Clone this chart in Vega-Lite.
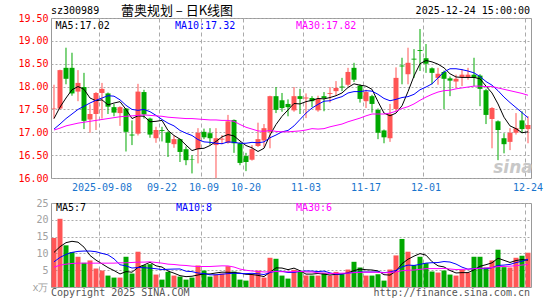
{
"$schema": "https://vega.github.io/schema/vega-lite/v6.json",
"background": "white",
"padding": {"left": 17, "top": 4, "right": 15, "bottom": 2},
"bounds": "flush",
"spacing": 25,
"config": {
  "view": {"stroke": "#999999", "strokeWidth": 1},
  "axis": {"labelFont": "DejaVu Sans Mono", "labelFontSize": 10, "labelOverlap": false, "labelBound": false},
  "text": {"font": "DejaVu Sans Mono", "fontSize": 10}
},
"datasets": {"k": [
{"date":"2025-08-27","open":17.52,"high":18.04,"low":17.30,"close":17.53,"vol":14.6,"ma5":17.30,"ma10":17.07,"ma30":17.05,"vma5":10.3,"vma10":7.5,"vma30":5.9},
{"date":"2025-08-28","open":17.52,"high":18.37,"low":17.50,"close":18.36,"vol":20.3,"ma5":17.55,"ma10":17.18,"ma30":17.09,"vma5":12.0,"vma10":8.8,"vma30":6.5},
{"date":"2025-08-29","open":18.41,"high":18.85,"low":18.05,"close":18.17,"vol":12.4,"ma5":17.75,"ma10":17.30,"ma30":17.14,"vma5":13.2,"vma10":9.7,"vma30":6.8},
{"date":"2025-09-01","open":18.41,"high":18.74,"low":17.80,"close":17.85,"vol":10.4,"ma5":17.93,"ma10":17.40,"ma30":17.17,"vma5":13.6,"vma10":10.3,"vma30":7.0},
{"date":"2025-09-02","open":17.89,"high":18.36,"low":17.68,"close":18.08,"vol":9.0,"ma5":18.00,"ma10":17.50,"ma30":17.20,"vma5":13.34,"vma10":10.6,"vma30":7.1},
{"date":"2025-09-03","open":17.99,"high":18.30,"low":17.07,"close":17.25,"vol":7.2,"ma5":17.94,"ma10":17.57,"ma30":17.22,"vma5":11.86,"vma10":10.7,"vma30":7.1},
{"date":"2025-09-04","open":17.28,"high":17.61,"low":16.99,"close":17.40,"vol":7.9,"ma5":17.75,"ma10":17.64,"ma30":17.24,"vma5":9.38,"vma10":10.7,"vma30":7.1},
{"date":"2025-09-05","open":17.40,"high":17.88,"low":17.05,"close":17.86,"vol":5.5,"ma5":17.69,"ma10":17.70,"ma30":17.26,"vma5":8.0,"vma10":10.5,"vma30":7.1},
{"date":"2025-09-08","open":17.86,"high":18.08,"low":17.30,"close":17.95,"vol":4.9,"ma5":17.71,"ma10":17.75,"ma30":17.28,"vma5":6.9,"vma10":10.0,"vma30":7.1},
{"date":"2025-09-09","open":17.85,"high":17.87,"low":17.40,"close":17.56,"vol":3.4,"ma5":17.60,"ma10":17.80,"ma30":17.30,"vma5":5.78,"vma10":9.56,"vma30":7.1},
{"date":"2025-09-10","open":17.55,"high":17.62,"low":17.35,"close":17.43,"vol":2.8,"ma5":17.64,"ma10":17.79,"ma30":17.32,"vma5":4.9,"vma10":8.38,"vma30":7.1},
{"date":"2025-09-11","open":17.42,"high":17.57,"low":17.14,"close":17.55,"vol":2.8,"ma5":17.67,"ma10":17.71,"ma30":17.34,"vma5":3.88,"vma10":6.63,"vma30":7.2},
{"date":"2025-09-12","open":17.52,"high":17.53,"low":16.58,"close":17.01,"vol":9.0,"ma5":17.50,"ma10":17.59,"ma30":17.35,"vma5":4.58,"vma10":6.29,"vma30":7.2},
{"date":"2025-09-15","open":16.95,"high":17.26,"low":16.72,"close":16.93,"vol":4.0,"ma5":17.30,"ma10":17.50,"ma30":17.36,"vma5":4.4,"vma10":5.65,"vma30":7.3},
{"date":"2025-09-16","open":16.97,"high":18.06,"low":16.93,"close":17.89,"vol":10.5,"ma5":17.36,"ma10":17.48,"ma30":17.37,"vma5":5.82,"vma10":5.8,"vma30":7.4},
{"date":"2025-09-17","open":17.88,"high":17.93,"low":17.30,"close":17.39,"vol":6.5,"ma5":17.35,"ma10":17.50,"ma30":17.38,"vma5":6.56,"vma10":5.73,"vma30":7.4},
{"date":"2025-09-18","open":17.30,"high":17.32,"low":16.88,"close":16.95,"vol":6.8,"ma5":17.23,"ma10":17.45,"ma30":17.37,"vma5":7.36,"vma10":5.62,"vma30":7.5},
{"date":"2025-09-19","open":16.87,"high":17.12,"low":16.77,"close":17.05,"vol":3.7,"ma5":17.24,"ma10":17.37,"ma30":17.36,"vma5":6.3,"vma10":5.44,"vma30":7.3},
{"date":"2025-09-22","open":17.05,"high":17.12,"low":16.80,"close":17.03,"vol":2.2,"ma5":17.26,"ma10":17.28,"ma30":17.35,"vma5":5.94,"vma10":5.17,"vma30":7.1},
{"date":"2025-09-23","open":17.00,"high":17.02,"low":16.46,"close":16.77,"vol":4.5,"ma5":17.04,"ma10":17.20,"ma30":17.33,"vma5":4.74,"vma10":5.28,"vma30":6.8},
{"date":"2025-09-24","open":16.74,"high":16.93,"low":16.66,"close":16.85,"vol":3.4,"ma5":16.93,"ma10":17.14,"ma30":17.32,"vma5":4.12,"vma10":5.34,"vma30":6.7},
{"date":"2025-09-25","open":16.85,"high":16.86,"low":16.35,"close":16.57,"vol":3.1,"ma5":16.85,"ma10":17.04,"ma30":17.31,"vma5":3.38,"vma10":5.37,"vma30":6.5},
{"date":"2025-09-26","open":16.63,"high":16.69,"low":16.28,"close":16.39,"vol":2.2,"ma5":16.72,"ma10":16.98,"ma30":17.30,"vma5":3.08,"vma10":4.69,"vma30":6.4},
{"date":"2025-09-29","open":16.41,"high":16.50,"low":16.10,"close":16.40,"vol":2.8,"ma5":16.60,"ma10":16.93,"ma30":17.30,"vma5":3.2,"vma10":4.57,"vma30":6.2},
{"date":"2025-09-30","open":16.63,"high":17.09,"low":16.32,"close":16.99,"vol":6.4,"ma5":16.64,"ma10":16.84,"ma30":17.29,"vma5":3.58,"vma10":4.16,"vma30":6.1},
{"date":"2025-10-09","open":17.01,"high":17.08,"low":16.85,"close":16.89,"vol":4.9,"ma5":16.65,"ma10":16.79,"ma30":17.28,"vma5":3.88,"vma10":4.0,"vma30":6.1},
{"date":"2025-10-10","open":16.98,"high":17.09,"low":16.73,"close":16.87,"vol":3.1,"ma5":16.71,"ma10":16.78,"ma30":17.27,"vma5":3.88,"vma10":3.63,"vma30":6.1},
{"date":"2025-10-13","open":16.72,"high":17.09,"low":16.00,"close":16.87,"vol":3.7,"ma5":16.80,"ma10":16.76,"ma30":17.27,"vma5":4.18,"vma10":3.63,"vma30":6.2},
{"date":"2025-10-14","open":16.84,"high":16.94,"low":16.74,"close":16.86,"vol":4.0,"ma5":16.90,"ma10":16.75,"ma30":17.26,"vma5":4.42,"vma10":3.81,"vma30":6.3},
{"date":"2025-10-15","open":16.77,"high":17.38,"low":16.75,"close":17.24,"vol":6.2,"ma5":16.95,"ma10":16.79,"ma30":17.26,"vma5":4.38,"vma10":3.98,"vma30":6.27},
{"date":"2025-10-16","open":17.27,"high":17.28,"low":16.55,"close":16.76,"vol":4.6,"ma5":16.92,"ma10":16.78,"ma30":17.24,"vma5":4.32,"vma10":4.1,"vma30":5.94},
{"date":"2025-10-17","open":16.76,"high":16.78,"low":16.28,"close":16.33,"vol":2.2,"ma5":16.81,"ma10":16.76,"ma30":17.17,"vma5":4.14,"vma10":4.01,"vma30":5.34},
{"date":"2025-10-20","open":16.48,"high":16.55,"low":16.15,"close":16.35,"vol":1.9,"ma5":16.71,"ma10":16.76,"ma30":17.11,"vma5":3.78,"vma10":3.98,"vma30":4.99},
{"date":"2025-10-21","open":16.40,"high":16.72,"low":16.38,"close":16.63,"vol":3.7,"ma5":16.66,"ma10":16.78,"ma30":17.07,"vma5":3.72,"vma10":4.07,"vma30":4.76},
{"date":"2025-10-22","open":16.70,"high":17.21,"low":16.68,"close":16.85,"vol":4.9,"ma5":16.58,"ma10":16.77,"ma30":17.03,"vma5":3.46,"vma10":3.92,"vma30":4.63},
{"date":"2025-10-23","open":16.82,"high":17.18,"low":16.67,"close":17.09,"vol":2.8,"ma5":16.65,"ma10":16.79,"ma30":17.02,"vma5":3.1,"vma10":3.71,"vma30":4.48},
{"date":"2025-10-24","open":17.01,"high":17.80,"low":16.65,"close":17.79,"vol":8.7,"ma5":16.94,"ma10":16.88,"ma30":17.04,"vma5":4.4,"vma10":4.27,"vma30":4.51},
{"date":"2025-10-27","open":17.79,"high":17.99,"low":17.42,"close":17.49,"vol":8.4,"ma5":17.17,"ma10":16.94,"ma30":17.02,"vma5":5.7,"vma10":4.74,"vma30":4.6},
{"date":"2025-10-28","open":17.70,"high":17.86,"low":17.45,"close":17.53,"vol":3.4,"ma5":17.35,"ma10":17.01,"ma30":17.01,"vma5":5.64,"vma10":4.68,"vma30":4.55},
{"date":"2025-10-29","open":17.62,"high":17.72,"low":17.35,"close":17.55,"vol":2.5,"ma5":17.49,"ma10":17.04,"ma30":17.01,"vma5":5.16,"vma10":4.31,"vma30":4.52},
{"date":"2025-10-30","open":17.48,"high":17.99,"low":17.45,"close":17.79,"vol":5.1,"ma5":17.63,"ma10":17.14,"ma30":17.02,"vma5":5.62,"vma10":4.36,"vma30":4.6},
{"date":"2025-10-31","open":17.79,"high":17.95,"low":17.40,"close":17.73,"vol":4.8,"ma5":17.62,"ma10":17.28,"ma30":17.03,"vma5":4.84,"vma10":4.62,"vma30":4.67},
{"date":"2025-11-03","open":17.74,"high":17.85,"low":17.31,"close":17.76,"vol":3.4,"ma5":17.67,"ma10":17.42,"ma30":17.05,"vma5":3.84,"vma10":4.77,"vma30":4.48},
{"date":"2025-11-04","open":17.75,"high":17.79,"low":17.55,"close":17.68,"vol":3.4,"ma5":17.70,"ma10":17.53,"ma30":17.08,"vma5":3.84,"vma10":4.74,"vma30":4.46},
{"date":"2025-11-05","open":17.48,"high":17.80,"low":17.45,"close":17.73,"vol":3.4,"ma5":17.74,"ma10":17.61,"ma30":17.07,"vma5":4.02,"vma10":4.59,"vma30":4.22},
{"date":"2025-11-06","open":17.79,"high":17.88,"low":17.46,"close":17.75,"vol":4.2,"ma5":17.73,"ma10":17.68,"ma30":17.08,"vma5":3.84,"vma10":4.73,"vma30":4.15},
{"date":"2025-11-07","open":17.84,"high":17.99,"low":17.65,"close":17.86,"vol":3.4,"ma5":17.76,"ma10":17.69,"ma30":17.12,"vma5":3.56,"vma10":4.2,"vma30":4.03},
{"date":"2025-11-10","open":17.90,"high":18.12,"low":17.80,"close":17.97,"vol":4.5,"ma5":17.80,"ma10":17.74,"ma30":17.15,"vma5":3.78,"vma10":3.81,"vma30":4.06},
{"date":"2025-11-11","open":18.00,"high":18.19,"low":17.90,"close":17.98,"vol":3.8,"ma5":17.86,"ma10":17.78,"ma30":17.18,"vma5":3.86,"vma10":3.85,"vma30":4.11},
{"date":"2025-11-12","open":18.04,"high":18.41,"low":18.00,"close":18.32,"vol":5.2,"ma5":17.98,"ma10":17.86,"ma30":17.23,"vma5":4.22,"vma10":4.12,"vma30":4.14},
{"date":"2025-11-13","open":18.41,"high":18.52,"low":18.10,"close":18.15,"vol":7.5,"ma5":18.06,"ma10":17.89,"ma30":17.27,"vma5":4.88,"vma10":4.36,"vma30":4.27},
{"date":"2025-11-14","open":18.02,"high":18.05,"low":17.65,"close":17.73,"vol":5.8,"ma5":18.03,"ma10":17.89,"ma30":17.31,"vma5":5.36,"vma10":4.46,"vma30":4.36},
{"date":"2025-11-17","open":17.68,"high":17.93,"low":17.53,"close":17.88,"vol":3.4,"ma5":18.01,"ma10":17.91,"ma30":17.36,"vma5":5.14,"vma10":4.46,"vma30":4.4},
{"date":"2025-11-18","open":17.79,"high":17.82,"low":17.43,"close":17.62,"vol":3.4,"ma5":17.94,"ma10":17.90,"ma30":17.40,"vma5":5.06,"vma10":4.46,"vma30":4.42},
{"date":"2025-11-19","open":17.49,"high":17.52,"low":16.85,"close":16.99,"vol":3.8,"ma5":17.67,"ma10":17.83,"ma30":17.40,"vma5":4.78,"vma10":4.5,"vma30":4.34},
{"date":"2025-11-20","open":17.04,"high":17.06,"low":16.76,"close":16.89,"vol":1.9,"ma5":17.42,"ma10":17.74,"ma30":17.40,"vma5":3.66,"vma10":4.27,"vma30":4.24},
{"date":"2025-11-21","open":16.87,"high":17.62,"low":16.79,"close":17.40,"vol":5.2,"ma5":17.36,"ma10":17.69,"ma30":17.42,"vma5":3.54,"vma10":4.45,"vma30":4.31},
{"date":"2025-11-24","open":17.51,"high":18.42,"low":17.45,"close":18.19,"vol":9.4,"ma5":17.42,"ma10":17.72,"ma30":17.46,"vma5":4.74,"vma10":4.94,"vma30":4.5},
{"date":"2025-11-25","open":18.46,"high":18.63,"low":18.05,"close":18.44,"vol":14.3,"ma5":17.58,"ma10":17.76,"ma30":17.52,"vma5":6.92,"vma10":5.99,"vma30":4.84},
{"date":"2025-11-26","open":18.27,"high":18.85,"low":18.05,"close":18.52,"vol":10.5,"ma5":17.89,"ma10":17.78,"ma30":17.56,"vma5":8.26,"vma10":6.52,"vma30":4.98},
{"date":"2025-11-27","open":18.61,"high":18.82,"low":18.19,"close":18.59,"vol":6.5,"ma5":18.23,"ma10":17.83,"ma30":17.62,"vma5":9.18,"vma10":6.42,"vma30":5.05},
{"date":"2025-11-28","open":18.80,"high":19.26,"low":18.34,"close":18.78,"vol":9.0,"ma5":18.50,"ma10":17.93,"ma30":17.70,"vma5":9.94,"vma10":6.74,"vma30":5.27},
{"date":"2025-12-01","open":18.62,"high":18.93,"low":18.30,"close":18.50,"vol":7.1,"ma5":18.57,"ma10":17.99,"ma30":17.77,"vma5":9.48,"vma10":7.11,"vma30":5.45},
{"date":"2025-12-02","open":18.40,"high":18.42,"low":18.05,"close":18.30,"vol":4.6,"ma5":18.54,"ma10":18.06,"ma30":17.83,"vma5":7.54,"vma10":7.23,"vma30":5.48},
{"date":"2025-12-03","open":18.19,"high":18.41,"low":18.04,"close":18.28,"vol":4.3,"ma5":18.49,"ma10":18.19,"ma30":17.88,"vma5":6.3,"vma10":7.28,"vma30":5.46},
{"date":"2025-12-04","open":18.32,"high":18.35,"low":17.51,"close":18.17,"vol":4.9,"ma5":18.41,"ma10":18.32,"ma30":17.91,"vma5":5.98,"vma10":7.58,"vma30":5.53},
{"date":"2025-12-05","open":18.18,"high":18.22,"low":17.79,"close":18.13,"vol":3.7,"ma5":18.28,"ma10":18.39,"ma30":17.92,"vma5":4.92,"vma10":7.43,"vma30":5.36},
{"date":"2025-12-08","open":18.11,"high":18.26,"low":17.97,"close":18.17,"vol":3.4,"ma5":18.21,"ma10":18.39,"ma30":17.95,"vma5":4.18,"vma10":6.83,"vma30":5.19},
{"date":"2025-12-09","open":18.21,"high":18.38,"low":18.01,"close":18.26,"vol":5.1,"ma5":18.20,"ma10":18.37,"ma30":17.97,"vma5":4.28,"vma10":5.91,"vma30":5.25},
{"date":"2025-12-10","open":18.21,"high":18.41,"low":18.15,"close":18.26,"vol":4.3,"ma5":18.20,"ma10":18.34,"ma30":17.99,"vma5":4.28,"vma10":5.29,"vma30":5.31},
{"date":"2025-12-11","open":18.26,"high":18.63,"low":18.01,"close":18.19,"vol":9.0,"ma5":18.20,"ma10":18.30,"ma30":18.01,"vma5":5.1,"vma10":5.54,"vma30":5.44},
{"date":"2025-12-12","open":18.24,"high":18.27,"low":17.57,"close":17.95,"vol":9.0,"ma5":18.17,"ma10":18.22,"ma30":18.01,"vma5":6.16,"vma10":5.54,"vma30":5.58},
{"date":"2025-12-15","open":17.92,"high":17.95,"low":17.18,"close":17.38,"vol":5.8,"ma5":18.01,"ma10":18.11,"ma30":18.00,"vma5":6.64,"vma10":5.41,"vma30":5.66},
{"date":"2025-12-16","open":17.29,"high":17.55,"low":16.65,"close":17.53,"vol":7.9,"ma5":17.86,"ma10":18.03,"ma30":18.00,"vma5":7.2,"vma10":5.74,"vma30":5.81},
{"date":"2025-12-17","open":17.24,"high":17.26,"low":16.39,"close":17.05,"vol":11.1,"ma5":17.62,"ma10":17.91,"ma30":17.97,"vma5":8.56,"vma10":6.42,"vma30":6.07},
{"date":"2025-12-18","open":16.87,"high":16.98,"low":16.54,"close":16.74,"vol":5.9,"ma5":17.33,"ma10":17.77,"ma30":17.94,"vma5":7.94,"vma10":6.52,"vma30":6.12},
{"date":"2025-12-19","open":16.79,"high":17.09,"low":16.61,"close":16.99,"vol":5.8,"ma5":17.14,"ma10":17.65,"ma30":17.91,"vma5":7.3,"vma10":6.73,"vma30":6.2},
{"date":"2025-12-22","open":16.99,"high":17.42,"low":16.95,"close":17.09,"vol":8.7,"ma5":17.08,"ma10":17.54,"ma30":17.88,"vma5":7.88,"vma10":7.26,"vma30":6.34},
{"date":"2025-12-23","open":17.26,"high":17.46,"low":16.98,"close":17.07,"vol":9.3,"ma5":16.99,"ma10":17.43,"ma30":17.85,"vma5":8.16,"vma10":7.68,"vma30":6.53},
{"date":"2025-12-24","open":17.07,"high":17.35,"low":16.76,"close":17.16,"vol":10.2,"ma5":17.01,"ma10":17.32,"ma30":17.81,"vma5":7.98,"vma10":8.27,"vma30":6.69}
]},
"vconcat": [
{
  "width": 480, "height": 160,
  "data": {"name": "k"},
  "encoding": {"x": {"field": "date", "type": "ordinal", "title": null,
    "scale": {"type": "band", "paddingInner": 0.1667, "paddingOuter": 0.0833},
    "axis": {"values": ["2025-09-08","2025-09-22","2025-10-09","2025-10-20","2025-11-03","2025-11-17","2025-12-01","2025-12-24"],
      "labelExpr": "datum.value == '2025-09-08' ? datum.value : slice(datum.value, 5)",
      "labelAngle": 0, "labelColor": "#1874cd", "labelPadding": 4, "labelOverlap": false, "ticks": false, "tickSize": 0, "domain": false,
      "grid": true, "gridDash": [4, 3], "gridColor": "#aaaaaa", "bandPosition": 0, "title": null}}},
  "layer": [
    {"mark": {"type": "rule", "strokeWidth": 1},
     "encoding": {
       "y": {"field": "low", "type": "quantitative", "title": null, "scale": {"domain": [16, 19.5]},
         "axis": {"values": [16, 16.5, 17, 17.5, 18, 18.5, 19, 19.5], "format": ".2f", "labelColor": "#ff0000", "labelOverlap": false, "labelBound": false, "labelFlush": false, "labelPadding": 3, "ticks": false, "tickSize": 0, "domain": false, "grid": true, "gridDash": [2, 2], "gridColor": "#aaaaaa", "title": null}},
       "y2": {"field": "high"},
       "color": {"condition": {"test": "datum.close >= datum.open", "value": "#ff5555"}, "value": "#00a800"}}},
    {"mark": {"type": "bar"},
     "encoding": {
       "y": {"field": "open", "type": "quantitative", "title": null, "scale": {"domain": [16, 19.5]},
         "axis": {"values": [16, 16.5, 17, 17.5, 18, 18.5, 19, 19.5], "format": ".2f", "labelColor": "#ff0000", "labelOverlap": false, "labelBound": false, "labelFlush": false, "labelPadding": 3, "ticks": false, "tickSize": 0, "domain": false, "grid": true, "gridDash": [2, 2], "gridColor": "#aaaaaa", "title": null}},
       "y2": {"field": "close"},
       "color": {"condition": {"test": "datum.close >= datum.open", "value": "#ff5555"}, "value": "#00a800"}}},
    {"mark": {"type": "line", "color": "#000000", "strokeWidth": 1},
     "encoding": {"y": {"field": "ma5", "type": "quantitative", "title": null, "scale": {"domain": [16, 19.5]},
       "axis": {"values": [16, 16.5, 17, 17.5, 18, 18.5, 19, 19.5], "format": ".2f", "labelColor": "#ff0000", "labelOverlap": false, "labelBound": false, "labelFlush": false, "labelPadding": 3, "ticks": false, "tickSize": 0, "domain": false, "grid": true, "gridDash": [2, 2], "gridColor": "#aaaaaa", "title": null}}}},
    {"mark": {"type": "line", "color": "#0000ff", "strokeWidth": 1},
     "encoding": {"y": {"field": "ma10", "type": "quantitative", "title": null, "scale": {"domain": [16, 19.5]},
       "axis": {"values": [16, 16.5, 17, 17.5, 18, 18.5, 19, 19.5], "format": ".2f", "labelColor": "#ff0000", "labelOverlap": false, "labelBound": false, "labelFlush": false, "labelPadding": 3, "ticks": false, "tickSize": 0, "domain": false, "grid": true, "gridDash": [2, 2], "gridColor": "#aaaaaa", "title": null}}}},
    {"mark": {"type": "line", "color": "#ff00ff", "strokeWidth": 1},
     "encoding": {"y": {"field": "ma30", "type": "quantitative", "title": null, "scale": {"domain": [16, 19.5]},
       "axis": {"values": [16, 16.5, 17, 17.5, 18, 18.5, 19, 19.5], "format": ".2f", "labelColor": "#ff0000", "labelOverlap": false, "labelBound": false, "labelFlush": false, "labelPadding": 3, "ticks": false, "tickSize": 0, "domain": false, "grid": true, "gridDash": [2, 2], "gridColor": "#aaaaaa", "title": null}}}},
    {"data": {"values": [{"label": "sz300989"}]},
     "mark": {"type": "text", "align": "left", "baseline": "middle", "dx": -3, "color": "#000000"},
     "encoding": {"x": {"datum": "2025-08-27", "type": "ordinal"}, "text": {"field": "label"},
       "y": {"datum": 19.644, "type": "quantitative", "scale": {"domain": [16, 19.5]},
         "axis": {"values": [16, 16.5, 17, 17.5, 18, 18.5, 19, 19.5], "format": ".2f", "labelColor": "#ff0000", "labelOverlap": false, "labelBound": false, "labelFlush": false, "labelPadding": 3, "ticks": false, "tickSize": 0, "domain": false, "grid": true, "gridDash": [2, 2], "gridColor": "#aaaaaa", "title": null}}}},
    {"data": {"values": [{"label": "蕾奥规划 – 日K线图"}]},
     "mark": {"type": "text", "align": "center", "baseline": "middle", "dx": 3, "color": "#000000", "font": "Noto Sans CJK SC", "fontSize": 13},
     "encoding": {"x": {"datum": "2025-09-24", "type": "ordinal"}, "text": {"field": "label"},
       "y": {"datum": 19.644, "type": "quantitative", "scale": {"domain": [16, 19.5]},
         "axis": {"values": [16, 16.5, 17, 17.5, 18, 18.5, 19, 19.5], "format": ".2f", "labelColor": "#ff0000", "labelOverlap": false, "labelBound": false, "labelFlush": false, "labelPadding": 3, "ticks": false, "tickSize": 0, "domain": false, "grid": true, "gridDash": [2, 2], "gridColor": "#aaaaaa", "title": null}}}},
    {"data": {"values": [{"label": "2025-12-24 15:00:00"}]},
     "mark": {"type": "text", "align": "right", "baseline": "middle", "dx": 2, "color": "#000000"},
     "encoding": {"x": {"datum": "2025-12-24", "type": "ordinal"}, "text": {"field": "label"},
       "y": {"datum": 19.644, "type": "quantitative", "scale": {"domain": [16, 19.5]},
         "axis": {"values": [16, 16.5, 17, 17.5, 18, 18.5, 19, 19.5], "format": ".2f", "labelColor": "#ff0000", "labelOverlap": false, "labelBound": false, "labelFlush": false, "labelPadding": 3, "ticks": false, "tickSize": 0, "domain": false, "grid": true, "gridDash": [2, 2], "gridColor": "#aaaaaa", "title": null}}}},
    {"data": {"values": [{"label": "MA5:17.02"}]},
     "mark": {"type": "text", "align": "left", "baseline": "middle", "dx": 1.5, "color": "#000000"},
     "encoding": {"x": {"datum": "2025-08-27", "type": "ordinal"}, "text": {"field": "label"},
       "y": {"datum": 19.325, "type": "quantitative", "scale": {"domain": [16, 19.5]},
         "axis": {"values": [16, 16.5, 17, 17.5, 18, 18.5, 19, 19.5], "format": ".2f", "labelColor": "#ff0000", "labelOverlap": false, "labelBound": false, "labelFlush": false, "labelPadding": 3, "ticks": false, "tickSize": 0, "domain": false, "grid": true, "gridDash": [2, 2], "gridColor": "#aaaaaa", "title": null}}}},
    {"data": {"values": [{"label": "MA10:17.32"}]},
     "mark": {"type": "text", "align": "left", "baseline": "middle", "dx": 1, "color": "#0000ff"},
     "encoding": {"x": {"datum": "2025-09-24", "type": "ordinal"}, "text": {"field": "label"},
       "y": {"datum": 19.325, "type": "quantitative", "scale": {"domain": [16, 19.5]},
         "axis": {"values": [16, 16.5, 17, 17.5, 18, 18.5, 19, 19.5], "format": ".2f", "labelColor": "#ff0000", "labelOverlap": false, "labelBound": false, "labelFlush": false, "labelPadding": 3, "ticks": false, "tickSize": 0, "domain": false, "grid": true, "gridDash": [2, 2], "gridColor": "#aaaaaa", "title": null}}}},
    {"data": {"values": [{"label": "MA30:17.82"}]},
     "mark": {"type": "text", "align": "left", "baseline": "middle", "dx": 2, "color": "#ff00ff"},
     "encoding": {"x": {"datum": "2025-10-30", "type": "ordinal"}, "text": {"field": "label"},
       "y": {"datum": 19.325, "type": "quantitative", "scale": {"domain": [16, 19.5]},
         "axis": {"values": [16, 16.5, 17, 17.5, 18, 18.5, 19, 19.5], "format": ".2f", "labelColor": "#ff0000", "labelOverlap": false, "labelBound": false, "labelFlush": false, "labelPadding": 3, "ticks": false, "tickSize": 0, "domain": false, "grid": true, "gridDash": [2, 2], "gridColor": "#aaaaaa", "title": null}}}},
    {"data": {"values": [{"label": "sina"}]},
     "mark": {"type": "text", "align": "center", "baseline": "middle", "dx": -3, "color": "#c8c8c8", "font": "DejaVu Sans", "fontSize": 17, "fontStyle": "italic", "fontWeight": "bold"},
     "encoding": {"x": {"datum": "2025-12-22", "type": "ordinal"}, "text": {"field": "label"},
       "y": {"datum": 16.22, "type": "quantitative", "scale": {"domain": [16, 19.5]},
         "axis": {"values": [16, 16.5, 17, 17.5, 18, 18.5, 19, 19.5], "format": ".2f", "labelColor": "#ff0000", "labelOverlap": false, "labelBound": false, "labelFlush": false, "labelPadding": 3, "ticks": false, "tickSize": 0, "domain": false, "grid": true, "gridDash": [2, 2], "gridColor": "#aaaaaa", "title": null}}}}
  ]
},
{
  "width": 480, "height": 84,
  "data": {"name": "k"},
  "encoding": {"x": {"field": "date", "type": "ordinal", "title": null,
    "scale": {"type": "band", "paddingInner": 0.1667, "paddingOuter": 0.0833},
    "axis": {"values": ["2025-09-08","2025-09-22","2025-10-09","2025-10-20","2025-11-03","2025-11-17","2025-12-01","2025-12-24"],
      "labels": false, "ticks": false, "tickSize": 0, "domain": false,
      "grid": true, "gridDash": [4, 3], "gridColor": "#aaaaaa", "bandPosition": 0, "title": null}}},
  "layer": [
    {"mark": {"type": "bar"},
     "encoding": {
       "y": {"field": "vol", "type": "quantitative", "title": null, "scale": {"domain": [0, 25]},
         "axis": {"values": [0, 5, 10, 15, 20, 25], "labelExpr": "datum.value == 0 ? 'x万' : datum.label", "labelColor": "#a0a0a0", "labelOverlap": false, "labelBound": false, "labelFlush": false, "labelPadding": 3, "ticks": false, "tickSize": 0, "domain": false, "grid": true, "gridDash": [2, 2], "gridColor": "#aaaaaa", "title": null}},
       "color": {"condition": {"test": "datum.close >= datum.open", "value": "#ff5555"}, "value": "#00a800"}}},
    {"mark": {"type": "line", "color": "#000000", "strokeWidth": 1},
     "encoding": {"y": {"field": "vma5", "type": "quantitative", "title": null, "scale": {"domain": [0, 25]},
       "axis": {"values": [0, 5, 10, 15, 20, 25], "labelExpr": "datum.value == 0 ? 'x万' : datum.label", "labelColor": "#a0a0a0", "labelOverlap": false, "labelBound": false, "labelFlush": false, "labelPadding": 3, "ticks": false, "tickSize": 0, "domain": false, "grid": true, "gridDash": [2, 2], "gridColor": "#aaaaaa", "title": null}}}},
    {"mark": {"type": "line", "color": "#0000ff", "strokeWidth": 1},
     "encoding": {"y": {"field": "vma10", "type": "quantitative", "title": null, "scale": {"domain": [0, 25]},
       "axis": {"values": [0, 5, 10, 15, 20, 25], "labelExpr": "datum.value == 0 ? 'x万' : datum.label", "labelColor": "#a0a0a0", "labelOverlap": false, "labelBound": false, "labelFlush": false, "labelPadding": 3, "ticks": false, "tickSize": 0, "domain": false, "grid": true, "gridDash": [2, 2], "gridColor": "#aaaaaa", "title": null}}}},
    {"mark": {"type": "line", "color": "#ff00ff", "strokeWidth": 1},
     "encoding": {"y": {"field": "vma30", "type": "quantitative", "title": null, "scale": {"domain": [0, 25]},
       "axis": {"values": [0, 5, 10, 15, 20, 25], "labelExpr": "datum.value == 0 ? 'x万' : datum.label", "labelColor": "#a0a0a0", "labelOverlap": false, "labelBound": false, "labelFlush": false, "labelPadding": 3, "ticks": false, "tickSize": 0, "domain": false, "grid": true, "gridDash": [2, 2], "gridColor": "#aaaaaa", "title": null}}}},
    {"data": {"values": [{"label": "MA5:7"}]},
     "mark": {"type": "text", "align": "left", "baseline": "middle", "dx": 2, "color": "#000000"},
     "encoding": {"x": {"datum": "2025-08-27", "type": "ordinal"}, "text": {"field": "label"},
       "y": {"datum": 23.6, "type": "quantitative", "scale": {"domain": [0, 25]},
         "axis": {"values": [0, 5, 10, 15, 20, 25], "labelExpr": "datum.value == 0 ? 'x万' : datum.label", "labelColor": "#a0a0a0", "labelOverlap": false, "labelBound": false, "labelFlush": false, "labelPadding": 3, "ticks": false, "tickSize": 0, "domain": false, "grid": true, "gridDash": [2, 2], "gridColor": "#aaaaaa", "title": null}}}},
    {"data": {"values": [{"label": "MA10:8"}]},
     "mark": {"type": "text", "align": "left", "baseline": "middle", "dx": 2, "color": "#0000ff"},
     "encoding": {"x": {"datum": "2025-09-24", "type": "ordinal"}, "text": {"field": "label"},
       "y": {"datum": 23.6, "type": "quantitative", "scale": {"domain": [0, 25]},
         "axis": {"values": [0, 5, 10, 15, 20, 25], "labelExpr": "datum.value == 0 ? 'x万' : datum.label", "labelColor": "#a0a0a0", "labelOverlap": false, "labelBound": false, "labelFlush": false, "labelPadding": 3, "ticks": false, "tickSize": 0, "domain": false, "grid": true, "gridDash": [2, 2], "gridColor": "#aaaaaa", "title": null}}}},
    {"data": {"values": [{"label": "MA30:6"}]},
     "mark": {"type": "text", "align": "left", "baseline": "middle", "dx": 2, "color": "#ff00ff"},
     "encoding": {"x": {"datum": "2025-10-30", "type": "ordinal"}, "text": {"field": "label"},
       "y": {"datum": 23.6, "type": "quantitative", "scale": {"domain": [0, 25]},
         "axis": {"values": [0, 5, 10, 15, 20, 25], "labelExpr": "datum.value == 0 ? 'x万' : datum.label", "labelColor": "#a0a0a0", "labelOverlap": false, "labelBound": false, "labelFlush": false, "labelPadding": 3, "ticks": false, "tickSize": 0, "domain": false, "grid": true, "gridDash": [2, 2], "gridColor": "#aaaaaa", "title": null}}}},
    {"data": {"values": [{"label": "Copyright 2025 SINA.COM"}]},
     "mark": {"type": "text", "align": "left", "baseline": "middle", "dx": -3, "color": "#555555"},
     "encoding": {"x": {"datum": "2025-08-27", "type": "ordinal"}, "text": {"field": "label"},
       "y": {"datum": -1.7, "type": "quantitative", "scale": {"domain": [0, 25]},
         "axis": {"values": [0, 5, 10, 15, 20, 25], "labelExpr": "datum.value == 0 ? 'x万' : datum.label", "labelColor": "#a0a0a0", "labelOverlap": false, "labelBound": false, "labelFlush": false, "labelPadding": 3, "ticks": false, "tickSize": 0, "domain": false, "grid": true, "gridDash": [2, 2], "gridColor": "#aaaaaa", "title": null}}}},
    {"data": {"values": [{"label": "http://finance.sina.com.cn"}]},
     "mark": {"type": "text", "align": "right", "baseline": "middle", "dx": 2, "color": "#555555"},
     "encoding": {"x": {"datum": "2025-12-24", "type": "ordinal"}, "text": {"field": "label"},
       "y": {"datum": -1.7, "type": "quantitative", "scale": {"domain": [0, 25]},
         "axis": {"values": [0, 5, 10, 15, 20, 25], "labelExpr": "datum.value == 0 ? 'x万' : datum.label", "labelColor": "#a0a0a0", "labelOverlap": false, "labelBound": false, "labelFlush": false, "labelPadding": 3, "ticks": false, "tickSize": 0, "domain": false, "grid": true, "gridDash": [2, 2], "gridColor": "#aaaaaa", "title": null}}}}
  ]
}
]
}
